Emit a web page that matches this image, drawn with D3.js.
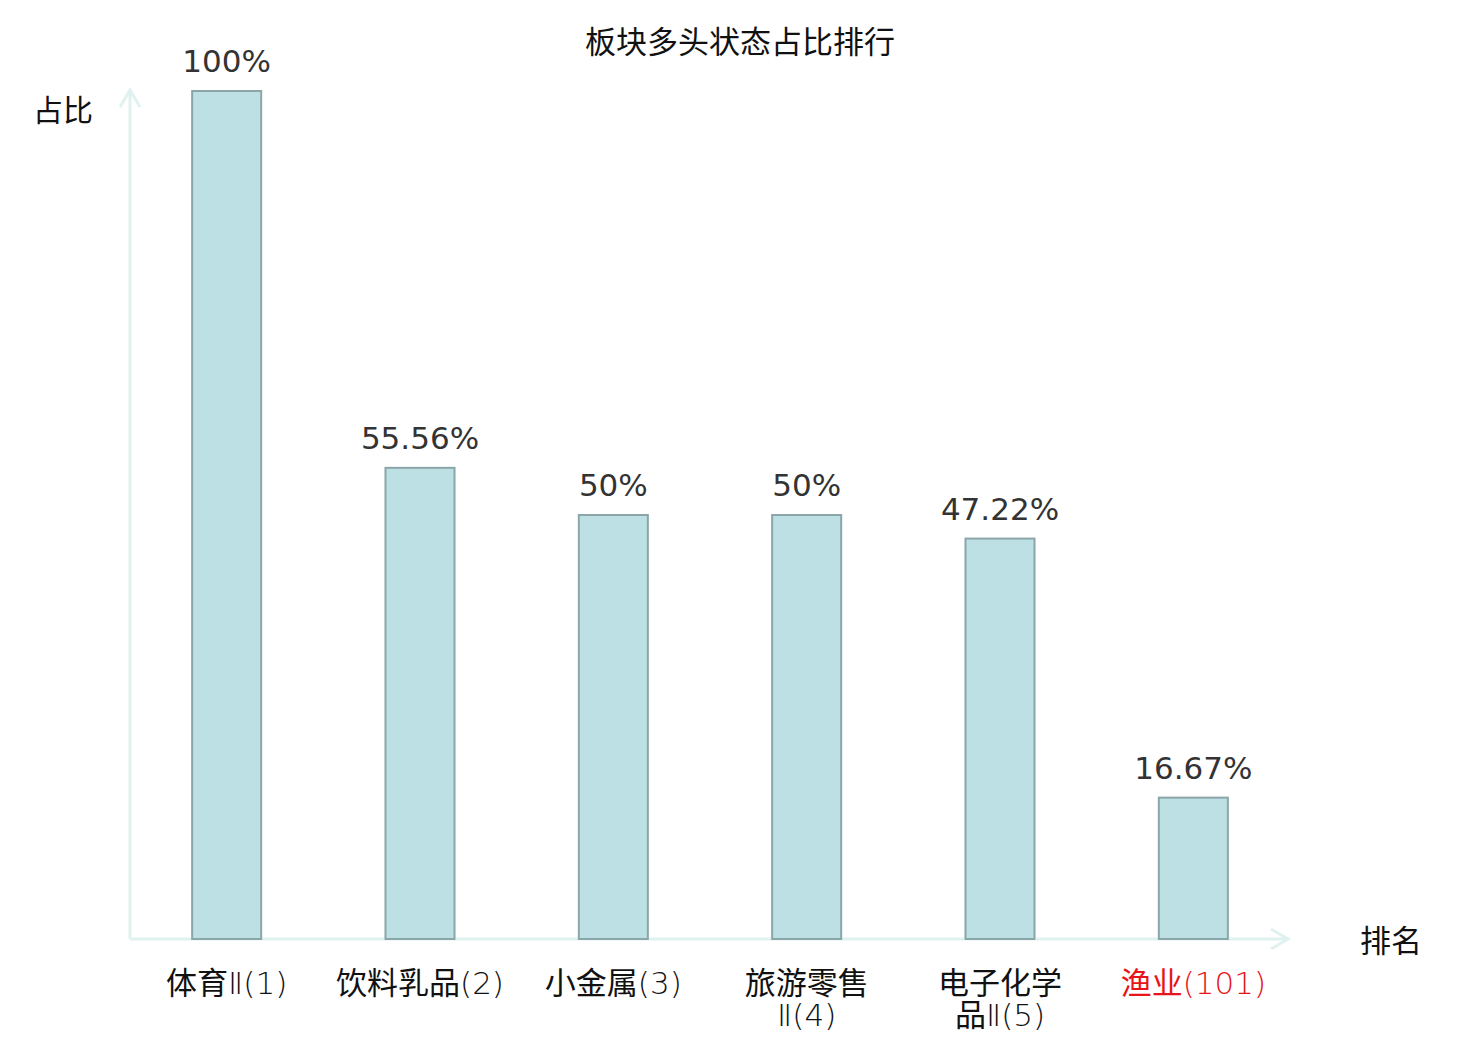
<!DOCTYPE html>
<html>
<head>
<meta charset="utf-8">
<script src="https://cdn.jsdelivr.net/npm/d3@7"></script>
<style>
  body { margin: 0; background: #fff; }
  text { font-family: "DejaVu Sans", "Noto Sans CJK SC", sans-serif; }
</style>
</head>
<body>
<script>
// data
const categories = ['体育Ⅱ(1)', '饮料乳品(2)', '小金属(3)', '旅游零售Ⅱ(4)', '电子化学品Ⅱ(5)', '渔业(101)']
const names = ['体育Ⅱ', '饮料乳品', '小金属', '旅游零售Ⅱ', '电子化学品Ⅱ', '渔业']
const ranks = ['(1)', '(2)', '(3)', '(4)', '(5)', '(101)']
const values = [100, 55.56, 50, 50, 47.22, 16.67]
const valueLabels = ['100%', '55.56%', '50%', '50%', '47.22%', '16.67%']
const highlight = [false, false, false, false, false, true]

const W = 1480, H = 1040
const x0 = 130, y0 = 939, yTop = 91

const svg = d3.select('body').append('svg').attr('width', W).attr('height', H)

const x = d3.scaleBand()
  .domain(categories)
  .range([x0, 1290])
  .paddingInner(0.643)
  .paddingOuter(0.3215)

const y = d3.scaleLinear()
  .domain([0, 100])
  .range([y0, yTop])

// title
svg.append('text')
  .attr('x', 740).attr('y', 53)
  .attr('text-anchor', 'middle')
  .style('font-size', '31px')
  .style('fill', '#111')
  .text('板块多头状态占比排行')

// axes with arrows
const axisColor = '#dff2ef'
svg.append('line').attr('x1', x0).attr('y1', y0).attr('x2', x0).attr('y2', 90)
  .attr('stroke', axisColor).attr('stroke-width', 3)
svg.append('path').attr('d', `M${x0 - 10},${107} L${x0},${90} L${x0 + 10},${107}`)
  .attr('fill', 'none').attr('stroke', axisColor).attr('stroke-width', 3)
svg.append('line').attr('x1', x0).attr('y1', y0).attr('x2', 1288).attr('y2', y0)
  .attr('stroke', axisColor).attr('stroke-width', 3)
svg.append('path').attr('d', `M${1271},${y0 - 10} L${1288},${y0} L${1271},${y0 + 10}`)
  .attr('fill', 'none').attr('stroke', axisColor).attr('stroke-width', 3)

// axis names
svg.append('text').attr('x', 63).attr('y', 121).attr('text-anchor', 'middle')
  .style('font-size', '30px').style('fill', '#111').text('占比')
svg.append('text').attr('x', 1391).attr('y', 952).attr('text-anchor', 'middle')
  .style('font-size', '31px').style('fill', '#111').text('排名')

// bars
svg.selectAll('rect.bar')
  .data(values)
  .join('rect')
    .attr('class', 'bar')
    .attr('x', (d, i) => x(categories[i]))
    .attr('y', d => y(d))
    .attr('width', x.bandwidth())
    .attr('height', d => y0 - y(d))
    .style('fill', '#bce0e3')
    .style('stroke', '#8ba6a9')
    .style('stroke-width', 2)

// value labels
svg.selectAll('text.val')
  .data(values)
  .join('text')
    .attr('class', 'val')
    .attr('x', (d, i) => x(categories[i]) + x.bandwidth() / 2)
    .attr('y', d => y(d) - 19)
    .attr('text-anchor', 'middle')
    .style('font-size', '31px')
    .style('fill', '#333')
    .text((d, i) => valueLabels[i])

// category labels, wrapped at 4 chinese chars
const lab = svg.selectAll('text.cat')
  .data(categories)
  .join('text')
    .attr('class', 'cat')
    .attr('x', d => x(d) + x.bandwidth() / 2)
    .attr('y', 994)
    .attr('text-anchor', 'middle')
    .style('font-size', '31px')
    .style('fill', (d, i) => highlight[i] ? '#e8141a' : '#111')

lab.each(function (d, i) {
  const t = d3.select(this)
  const cx = x(d) + x.bandwidth() / 2
  const full = names[i] + ranks[i]
  const lines = names[i].length > 4
    ? [names[i].slice(0, 4), names[i].slice(4) + ranks[i]]
    : [full]
  lines.forEach((ln, k) => {
    const ts = t.append('tspan').attr('x', cx).attr('dy', k === 0 ? 0 : 32)
    // split chinese from the rest so the rank reads lighter
    const m = ln.match(/^([^\(Ⅱ]*)(.*)$/)
    ts.append('tspan').text(m[1])
    ts.append('tspan').style('font-weight', 300).text(m[2])
  })
})
</script>
</body>
</html>
